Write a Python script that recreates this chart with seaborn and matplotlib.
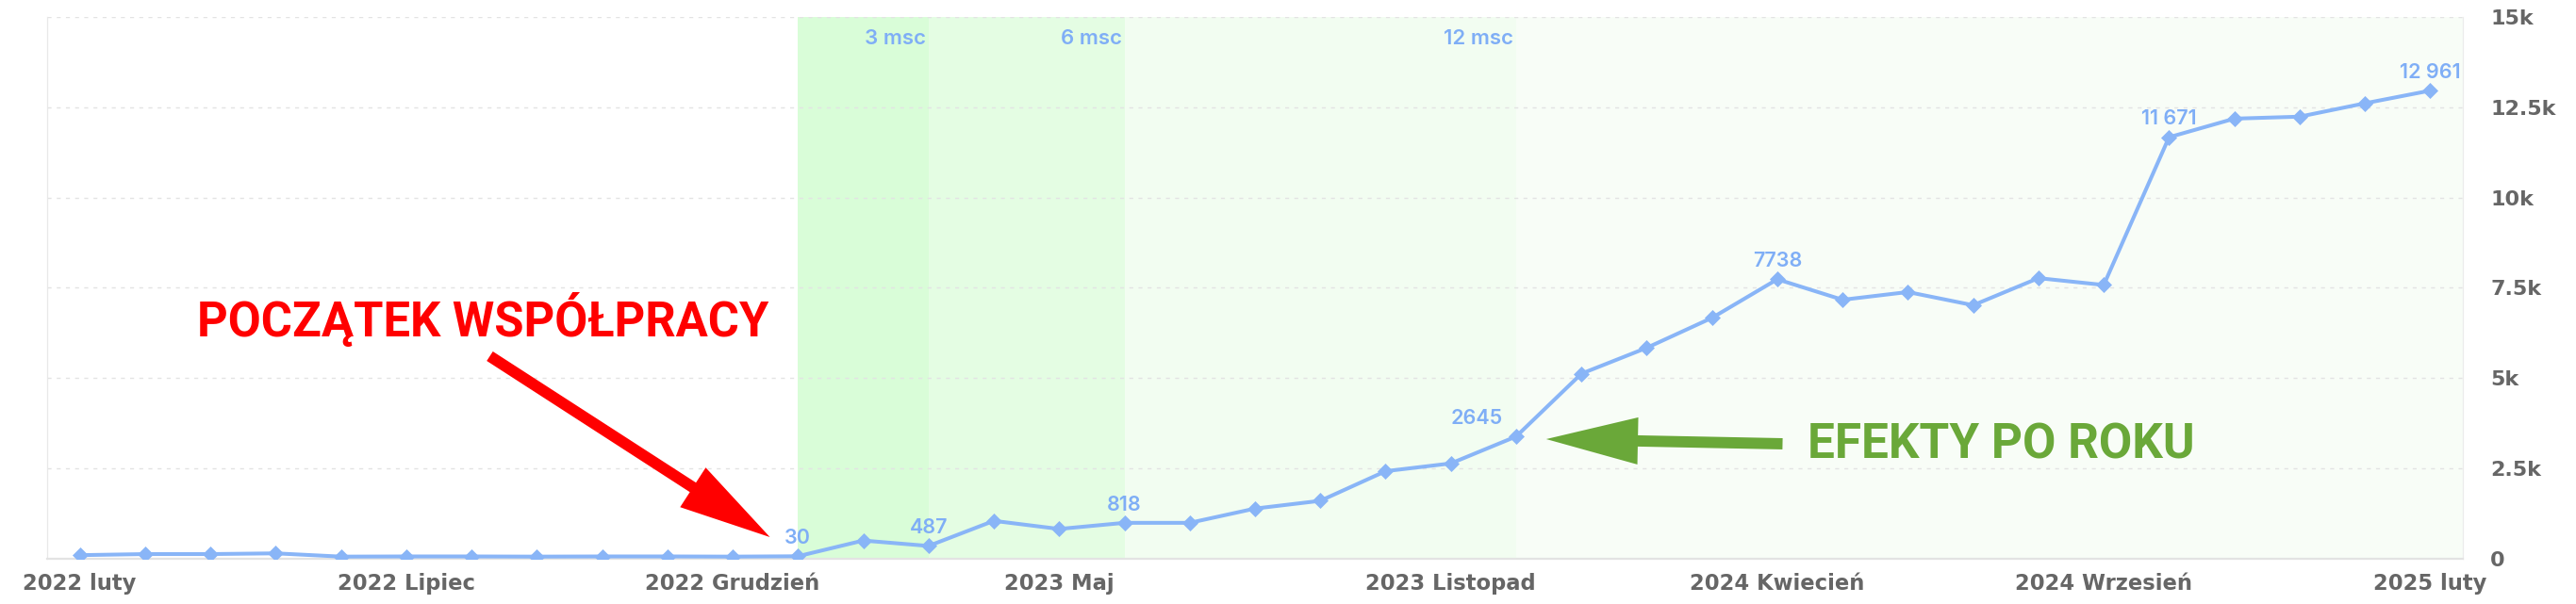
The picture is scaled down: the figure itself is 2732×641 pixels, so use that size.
import matplotlib
matplotlib.use("Agg")
import matplotlib.pyplot as plt
import seaborn as sns
import pandas as pd
import numpy as np

# ---------------- data ----------------
months = [
    "2022 luty", "2022 Marzec", "2022 Kwiecień", "2022 Maj", "2022 Czerwiec", "2022 Lipiec",
    "2022 Sierpień", "2022 Wrzesień", "2022 Październik", "2022 Listopad", "2022 Grudzień",
    "2023 Styczeń", "2023 luty", "2023 Marzec", "2023 Kwiecień", "2023 Maj", "2023 Czerwiec",
    "2023 Lipiec", "2023 Sierpień", "2023 Wrzesień", "2023 Październik", "2023 Listopad",
    "2023 Grudzień", "2024 Styczeń", "2024 luty", "2024 Marzec", "2024 Kwiecień", "2024 Maj",
    "2024 Czerwiec", "2024 Lipiec", "2024 Sierpień", "2024 Wrzesień", "2024 Październik",
    "2024 Listopad", "2024 Grudzień", "2025 Styczeń", "2025 luty",
]
values = [100, 130, 130, 150, 60, 65, 65, 60, 65, 65, 60, 70,
          505, 355, 1050, 825, 995, 995, 1390, 1605, 2425, 2640,
          3385, 5125, 5840, 6670, 7738, 7170, 7385, 7020, 7770, 7580,
          11671, 12185, 12240, 12610, 12961]

tick_months = ["2022 luty", "2022 Lipiec", "2022 Grudzień", "2023 Maj",
               "2023 Listopad", "2024 Kwiecień", "2024 Wrzesień", "2025 luty"]

label_months = ["2023 Styczeń", "2023 Marzec", "2023 Czerwiec", "2023 Grudzień",
                "2024 Kwiecień", "2024 Październik", "2025 luty"]
label_texts = ["30", "487", "818", "2645", "7738", "11 671", "12 961"]

band_starts = ["2023 Styczeń", "2023 Marzec", "2023 Czerwiec", "2023 Grudzień"]
band_ends = ["2023 Marzec", "2023 Czerwiec", "2023 Grudzień", None]
band_labels = ["3 msc", "6 msc", "12 msc", ""]
band_colors = ["#d9fdd8", "#e4fde3", "#f2fdf1", "#f8fdf7"]

y_ticks = [0, 2500, 5000, 7500, 10000, 12500, 15000]
y_tick_labels = ["0", "2.5k", "5k", "7.5k", "10k", "12.5k", "15k"]

# ---------------- figure ----------------
sns.set_theme(style="white")
plt.rcParams["font.family"] = ["DejaVu Sans"]

W, H = 2732, 641
fig = plt.figure(figsize=(W / 100, H / 100), dpi=100)
ax = fig.add_axes([50 / W, 48 / H, 2562 / W, 575 / H])

df = pd.DataFrame({"idx": np.arange(len(months)), "month": months, "value": values})
pos = {m: i for i, m in enumerate(months)}

line_color = "#89b5f7"
label_color = "#7faef6"

ax.set_xlim(-0.5, len(months) - 0.5)
ax.set_ylim(0, 15000)

# bands
for s, e, lab, c in zip(band_starts, band_ends, band_labels, band_colors):
    x0 = pos[s]
    x1 = pos[e] if e is not None else len(months) - 0.5
    ax.axvspan(x0, x1, color=c, zorder=0.2, lw=0)
    if lab:
        ax.annotate(lab, xy=(x1, 1.0), xycoords=("data", "axes fraction"),
                    xytext=(-2, -9.5), textcoords="offset points",
                    ha="right", va="top", fontsize=16, color=label_color,
                    family=["Inter", "Roboto", "DejaVu Sans"], fontweight="semibold")

sns.lineplot(data=df, x="idx", y="value", ax=ax, color=line_color, lw=2.9,
             marker="D", markersize=8, markeredgecolor=line_color,
             markeredgewidth=0.5, zorder=5)

# data labels
for m, t in zip(label_months, label_texts):
    i = pos[m]
    dx = -30 if t == "2645" else 0
    ax.annotate(t, xy=(i, values[i]), xytext=(dx, 9.5), textcoords="offset points",
                ha="center", va="baseline", fontsize=15.5, color=label_color,
                family=["Inter", "Roboto", "DejaVu Sans"], fontweight="semibold", zorder=6)

# axes styling
ax.set_axisbelow(True)
ax.yaxis.grid(True, color="#e3e3e3", linestyle=(0, (3, 4)), lw=1.0)
ax.xaxis.grid(False)
ax.spines["top"].set_visible(False)
ax.spines["left"].set_color("#e8e8e8")
ax.spines["left"].set_linewidth(0.9)
ax.spines["right"].set_color("#ececec")
ax.spines["right"].set_linewidth(0.9)
ax.spines["bottom"].set_color("#e3e3e3")
ax.spines["bottom"].set_linewidth(1.6)

ax.set_xticks([pos[m] for m in tick_months])
ax.set_xticklabels(tick_months)
ax.yaxis.tick_right()
ax.set_yticks(y_ticks)
ax.set_yticklabels(y_tick_labels)
ax.tick_params(axis="x", length=0, pad=11, labelsize=16.3, labelcolor="#666666")
ax.tick_params(axis="y", length=0, pad=21, labelsize=16, labelcolor="#666666")
for lbl in ax.get_xticklabels() + ax.get_yticklabels():
    lbl.set_fontweight("bold")
ax.set_xlabel("")
ax.set_ylabel("")

# annotations
red = "#ff0000"
green = "#6aa839"
ax.text(1.80, 6157, "POCZĄTEK WSPÓŁPRACY", color=red, fontsize=36.5,
        family=["Roboto", "DejaVu Sans"], fontweight="bold", ha="left", va="baseline", zorder=7)
ax.annotate("", xy=(10.57, 600), xytext=(6.28, 5609),
            arrowprops=dict(arrowstyle="simple,head_length=70,head_width=36,tail_width=8.6",
                            mutation_scale=1, color=red, lw=0, shrinkA=0, shrinkB=0),
            zorder=7)
ax.text(26.47, 2779, "EFEKTY PO ROKU", color=green, fontsize=37,
        family=["Roboto", "DejaVu Sans"], fontweight="bold", ha="left", va="baseline", zorder=7)
ax.annotate("", xy=(22.46, 3313), xytext=(26.08, 3183),
            arrowprops=dict(arrowstyle="simple,head_length=70,head_width=36,tail_width=8.6",
                            mutation_scale=1, color=green, lw=0, shrinkA=0, shrinkB=0),
            zorder=7)

fig.savefig("out.png", dpi=100)
